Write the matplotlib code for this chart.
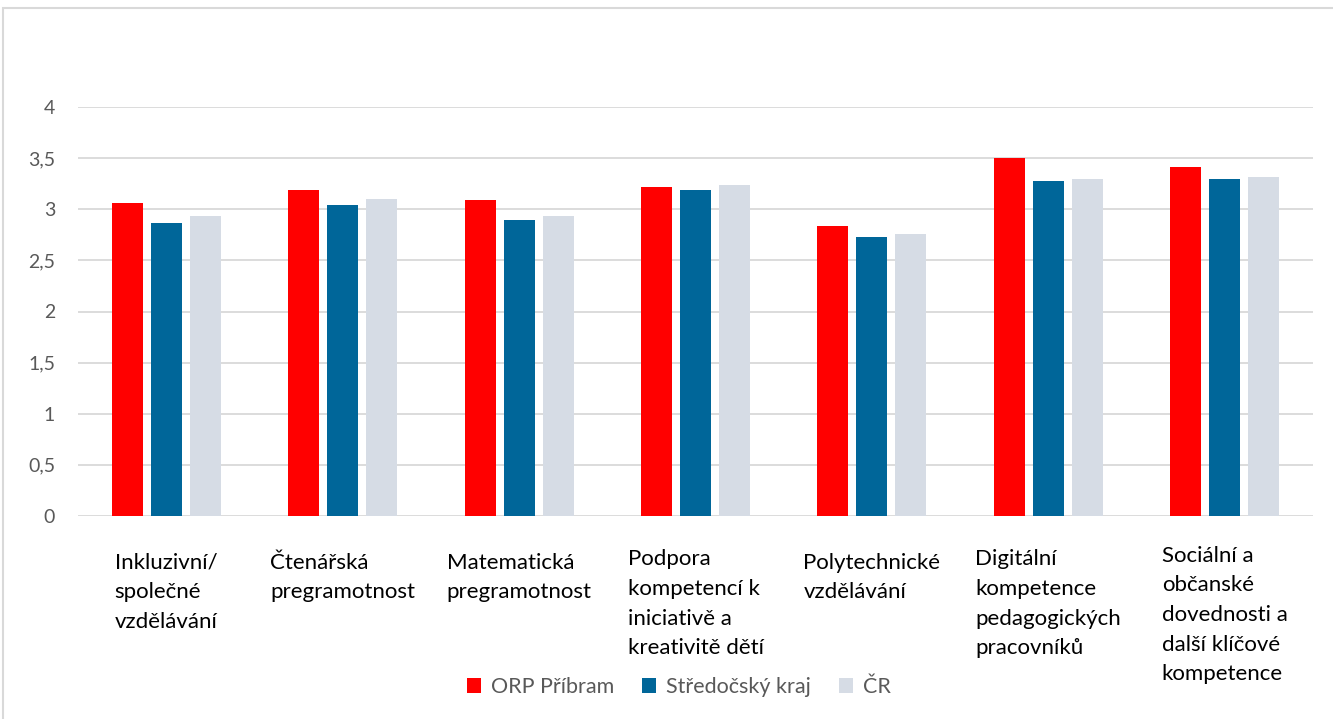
import matplotlib
matplotlib.use("Agg")
import matplotlib.pyplot as plt
import matplotlib.transforms as mtransforms
from matplotlib.patches import Rectangle
import numpy as np

plt.rcParams['font.family'] = ['Lato', 'DejaVu Sans']

# Categories (line breaks as they wrap under the axis)
categories = [
    "Inkluzivní/\nspolečné\nvzdělávání",
    "Čtenářská\npregramotnost",
    "Matematická\npregramotnost",
    "Podpora\nkompetencí k\niniciativě a\nkreativitě dětí",
    "Polytechnické\nvzdělávání",
    "Digitální\nkompetence\npedagogických\npracovníků",
    "Sociální a\nobčanské\ndovednosti a\ndalší klíčové\nkompetence",
]
orp_pribram = [3.06, 3.19, 3.09, 3.22, 2.84, 3.50, 3.41]
stredocesky_kraj = [2.87, 3.04, 2.89, 3.19, 2.73, 3.28, 3.30]
cr = [2.93, 3.10, 2.93, 3.24, 2.76, 3.30, 3.32]
series_names = ["ORP Příbram", "Středočský kraj", "ČR"]
colors = ["#FF0000", "#006699", "#D6DCE5"]

W, H = 1333, 719
fig = plt.figure(figsize=(W / 100, H / 100), dpi=100)
ax = fig.add_axes([78 / W, 1 - 516 / H, (1313 - 78) / W, (516 - 107) / H])

x = np.arange(len(categories))
width = 0.176
step = 0.221
for i, (vals, name, col) in enumerate(zip([orp_pribram, stredocesky_kraj, cr], series_names, colors)):
    ax.bar(x + (i - 1) * step, vals, width, color=col, label=name, zorder=3)

ax.set_xlim(-0.5, len(categories) - 0.5)
ax.set_ylim(0, 4)
ax.set_yticks(np.arange(0, 4.01, 0.5))
ax.set_yticklabels([f"{v:g}".replace(".", ",") for v in np.arange(0, 4.01, 0.5)])
ax.grid(axis='y', color='#D9D9D9', linewidth=1.3, zorder=0)
ax.set_axisbelow(True)
for s in ax.spines.values():
    s.set_visible(False)
ax.tick_params(axis='y', length=0, pad=16.5, labelsize=14, labelcolor='#595959')
ax.tick_params(axis='x', length=0)
ax.set_xticks([])

# Category labels: block centred under group, lines left aligned;
# taller blocks sit a little higher
trans = mtransforms.blended_transform_factory(ax.transData, ax.transAxes)
for xi, lab in zip(x, categories):
    nlines = lab.count("\n") + 1
    shift = max(nlines - 3, 0) * 3.5
    t = ax.text(xi, -0.09, lab, transform=trans, ha='center', va='top',
                multialignment='left', fontsize=16, color='black', linespacing=1.6)
    t.set_transform(trans + mtransforms.ScaledTranslation(0, shift / 100, fig.dpi_scale_trans))

leg = fig.legend(loc='center', bbox_to_anchor=(679 / W, 1 - 687 / H), ncol=3,
                 frameon=False, fontsize=15.5, handlelength=0.65, handleheight=0.65,
                 handletextpad=0.45, columnspacing=1.3)
for t in leg.get_texts():
    t.set_color('#595959')

# Outer chart frame
fig.add_artist(Rectangle((3 / W, -0.05), 1.1, 1 - 8 / H + 0.05, transform=fig.transFigure,
                         fill=False, edgecolor='#D9D9D9', linewidth=1.5))

fig.savefig("out.png", dpi=100)
